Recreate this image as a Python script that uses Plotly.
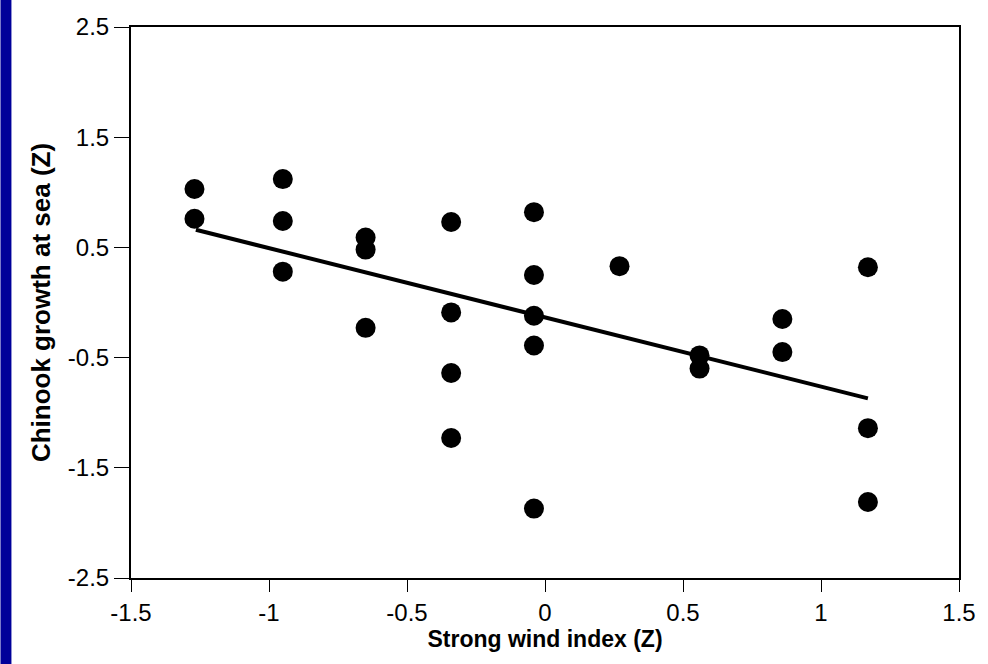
import plotly.graph_objects as go

# Data
wind_x = [-1.27, -1.27,
          -0.95, -0.95, -0.95,
          -0.65, -0.65, -0.65,
          -0.34, -0.34, -0.34, -0.34,
          -0.04, -0.04, -0.04, -0.04, -0.04,
          0.27,
          0.56, 0.56,
          0.86, 0.86,
          1.17, 1.17, 1.17]
growth_y = [1.03, 0.76,
            1.12, 0.74, 0.28,
            0.59, 0.48, -0.23,
            0.73, -0.09, -0.64, -1.23,
            0.82, 0.25, -0.12, -0.39, -1.87,
            0.33,
            -0.48, -0.60,
            -0.15, -0.45,
            0.32, -1.14, -1.81]
fit_x = [-1.265, 1.17]
fit_y = [0.66, -0.87]

x_ticks = [-1.5, -1, -0.5, 0, 0.5, 1, 1.5]
x_tick_labels = ["-1.5", "-1", "-0.5", "0", "0.5", "1", "1.5"]
y_ticks = [-2.5, -1.5, -0.5, 0.5, 1.5, 2.5]
y_tick_labels = ["-2.5", "-1.5", "-0.5", "0.5", "1.5", "2.5"]

FONT = "Liberation Sans, Arial, Helvetica, sans-serif"

fig = go.Figure()
fig.add_trace(go.Scatter(x=fit_x, y=fit_y, mode="lines",
                         line=dict(color="black", width=4), showlegend=False))
fig.add_trace(go.Scatter(x=wind_x, y=growth_y, mode="markers",
                         marker=dict(color="black", size=20), showlegend=False))

W, H = 988, 664
ml, mr, mt, mb = 131, 26, 27, 86
plot_w = W - ml - mr

fig.update_layout(
    width=W, height=H,
    margin=dict(l=ml, r=mr, t=mt, b=mb),
    paper_bgcolor="white", plot_bgcolor="white",
    font=dict(family=FONT, color="black"),
    shapes=[dict(type="rect", xref="paper", yref="paper",
                 x0=-ml / plot_w, x1=(11 - ml) / plot_w, y0=-1, y1=2,
                 fillcolor="#000099", line=dict(width=0), layer="below")],
)
fig.update_xaxes(
    range=[-1.5, 1.5], tickvals=x_ticks, ticktext=x_tick_labels,
    showgrid=False, zeroline=False,
    showline=True, linecolor="black", linewidth=2, mirror=True,
    ticks="outside", ticklen=12, tickwidth=1, tickcolor="black",
    tickfont=dict(size=24, family=FONT),
    title=dict(text="<b>Strong wind index (Z)</b>",
               font=dict(size=23, family=FONT), standoff=4),
)
fig.update_yaxes(
    range=[-2.5, 2.5], tickvals=y_ticks, ticktext=y_tick_labels,
    showgrid=False, zeroline=False,
    showline=True, linecolor="black", linewidth=2, mirror=True,
    ticks="outside", ticklen=15, tickwidth=1, tickcolor="black",
    tickfont=dict(size=24, family=FONT),
    title=dict(text="<b>Chinook growth at sea (Z)</b>",
               font=dict(size=26, family=FONT), standoff=10),
)

fig.write_html("out.html",
               config={"displayModeBar": False},
               post_script="document.body.style.margin='0';document.body.style.overflow='hidden';")
